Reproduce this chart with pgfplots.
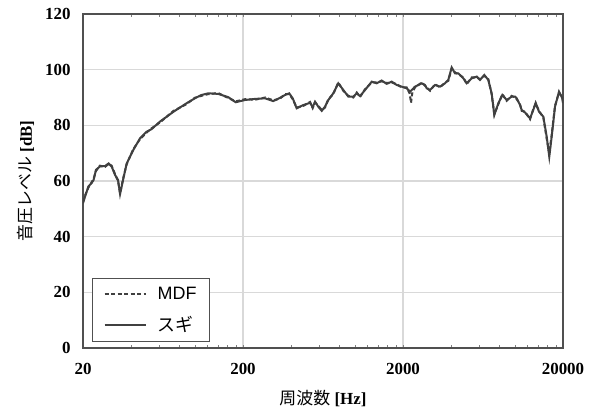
\documentclass[border=0pt]{standalone}
\usepackage{pgfplots}
\pgfplotsset{compat=1.18}
\usepackage{fontspec}
\setmainfont{Liberation Serif}
\newfontfamily\jp{Noto Sans CJK JP}
\newfontfamily\lsans{Liberation Sans}
\definecolor{curve}{HTML}{404040}
\definecolor{gridc}{HTML}{D9D9D9}
\definecolor{frame}{HTML}{505050}
\begin{document}
\begin{tikzpicture}
\begin{axis}[
  scale only axis, width=480bp, height=334bp,
  xmode=log, xmin=20, xmax=20000, ymin=0, ymax=120,
  xtick={20,200,2000,20000}, xticklabels={20,200,2000,20000},
  ytick={0,20,40,60,80,100,120}, yticklabels={0,20,40,60,80,100,120},
  minor xtick={}, major tick length=0pt,
  grid=major, major grid style={gridc, line width=1.3bp},
  axis line style={frame, line width=1.6bp},
  tick label style={font=\fontsize{17}{17}\selectfont\bfseries},
  yticklabel style={xshift=-9bp},
  xticklabel style={yshift=-12bp},
  xlabel={{\jp 周波数} \bfseries [Hz]},
  ylabel={{\jp 音圧レベル} \bfseries [dB]},
  label style={font=\fontsize{17}{17}\selectfont},
  xlabel style={yshift=-8bp},
  ylabel style={yshift=4bp},
  legend style={at={(9/480,6/334)}, anchor=south west, draw=frame, line width=1.4bp, fill=white,
    font=\fontsize{18}{18}\selectfont, row sep=12bp, inner xsep=11bp, inner ysep=6bp,
    /tikz/every odd column/.append style={column sep=9bp}},
  legend cell align=left,
  legend image code/.code={\draw[#1, line width=2bp] (0bp,0bp) -- (41bp,0bp);},
]
\addplot[curve, line width=2bp, dash pattern=on 4bp off 2.5bp] table {
20 52.5
20.6 54.8
21.6 57.6
22.6 59.5
23.3 60.8
24.1 63.6
25.5 65.5
27.5 65.1
28.9 66.1
30.2 65.5
31.7 62.5
33.1 60.0
34.1 55.6
35.6 60.8
37.5 66.0
41.2 71.4
45.4 75.0
49.9 77.4
53.6 78.9
60.4 81.0
73.6 85.2
88.6 87.6
100 89.9
110 90.6
121 91.2
140 91.6
162 89.8
180 88.6
206 89.4
238 89.2
275 90.0
309 89.0
341 89.6
366 91.2
389 91.2
409 89.4
433 86.4
477 87.0
525 88.4
545 86.2
564 88.2
591 87.0
621 85.5
651 86.4
683 89.4
733 91.2
788 95.4
847 92.4
911 90.6
979 90.0
1028 91.8
1078 90.2
1158 93.0
1275 95.4
1369 95.4
1471 95.8
1582 95.2
1700 95.4
1827 94.8
1963 93.6
2110 93.6
2200 91.5
2244 88.1
2290 92.0
2377 93.6
2618 95.4
2744 94.2
2813 93.6
2952 92.4
3170 94.8
3407 93.6
3661 95.4
3838 96.0
4030 100.4
4227 99.0
4434 98.4
4766 97.2
5004 94.8
5375 97.2
5779 97.2
6056 96.6
6443 97.8
6826 96.6
7163 91.2
7441 84.0
7885 87.6
8355 91.2
8897 88.8
9552 90.6
10024 90.0
10269 89.4
10770 87.6
11039 85.2
11580 84.9
12445 82.2
13032 85.8
13494 87.8
14159 85.2
15069 82.8
15818 75.2
16413 70.0
16988 76.5
17825 87.0
18882 91.8
19810 90.0
20000 88.4
};
\addlegendentry{\lsans MDF}
\addplot[curve, line width=2bp] table {
20 52
20.6 54.4
21.6 58
22.6 59.2
23.3 60.4
24.1 64
25.5 65.2
27.5 65.4
28.9 66.3
30.2 65.2
31.7 62.2
33.1 60.4
34.1 55.3
35.6 60.4
37.5 66.3
41.2 71.1
45.4 75.3
49.9 77.7
53.6 78.6
60.4 81.3
73.6 84.9
88.6 87.9
100 89.7
110 90.9
121 91.5
140 91.3
162 90.1
180 88.3
206 89.1
238 89.5
275 89.7
309 88.7
341 89.9
366 90.9
389 91.5
409 89.7
433 86.1
477 87.3
525 88.1
545 86.5
564 88.5
591 86.7
621 85.2
651 86.7
683 89.1
733 91.5
788 95.1
847 92.7
911 90.3
979 90.3
1028 91.5
1078 90.5
1158 92.7
1275 95.7
1369 95.1
1471 96.1
1582 94.9
1700 95.7
1827 94.5
1963 93.9
2110 93.3
2213 92.1
2377 93.9
2618 95.1
2744 94.5
2813 93.3
2952 92.7
3170 94.5
3407 93.9
3661 95.1
3838 96.3
4030 100.8
4227 98.7
4434 98.7
4766 96.9
5004 95.1
5375 96.9
5779 97.5
6056 96.3
6443 98.1
6826 96.3
7163 91.5
7441 83.7
7885 87.9
8355 90.9
8897 89.1
9552 90.3
10024 90.3
10269 89.7
10770 87.3
11039 85.5
11580 84.6
12445 82.5
13032 85.5
13494 88.1
14159 84.9
15069 83.1
15818 75.9
16413 68.7
16988 75.9
17825 86.7
18882 92.1
19810 89.7
20000 88
};
\addlegendentry{\jp スギ}
\end{axis}
\path[use as bounding box] ([shift={(-83bp,-63bp)}]current axis.south west) rectangle ([shift={(37bp,14bp)}]current axis.north east);
\end{tikzpicture}
\end{document}
